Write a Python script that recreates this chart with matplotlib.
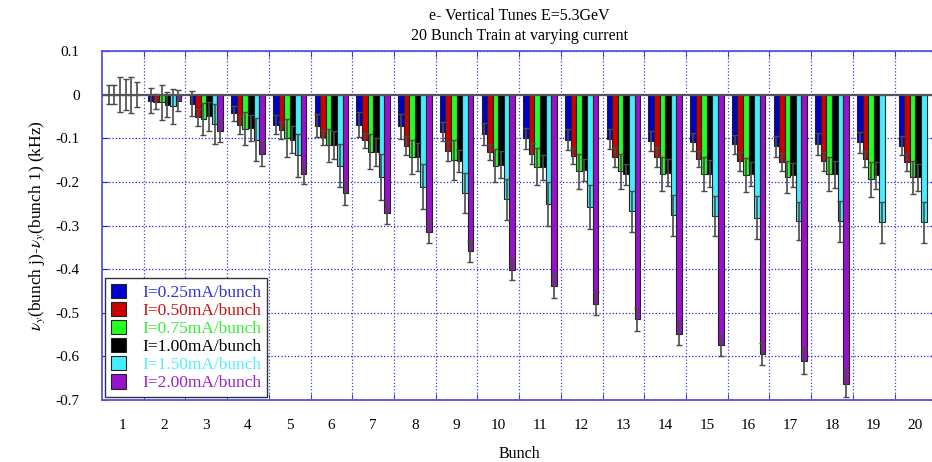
import numpy as np
import matplotlib.pyplot as plt

plt.rcParams['font.family'] = ['Liberation Serif', 'DejaVu Serif']
plt.rcParams['mathtext.fontset'] = 'stix'

bunch = list(range(1, 21))
labels = ['I=0.25mA/bunch', 'I=0.50mA/bunch', 'I=0.75mA/bunch',
          'I=1.00mA/bunch', 'I=1.50mA/bunch', 'I=2.00mA/bunch']
colors = ['#0000CC', '#CC0000', '#22FF22', '#000000', '#44EEFF', '#9911CC']
text_colors = ['#3333CC', '#CC1111', '#33EE33', '#000000', '#55EEFF', '#9922CC']

# bunch 1 is the reference -> 0
i025 = [0, -0.014, -0.021, -0.043, -0.069, -0.071, -0.069, -0.073, -0.085, -0.091,
        -0.100, -0.103, -0.102, -0.107, -0.108, -0.114, -0.118, -0.113, -0.109, -0.117]
i050 = [0, -0.016, -0.052, -0.070, -0.082, -0.098, -0.105, -0.117, -0.130, -0.132,
        -0.136, -0.140, -0.143, -0.144, -0.147, -0.153, -0.155, -0.153, -0.147, -0.155]
i075 = [0, -0.018, -0.056, -0.078, -0.100, -0.116, -0.131, -0.143, -0.150, -0.163,
        -0.165, -0.176, -0.176, -0.182, -0.182, -0.184, -0.189, -0.182, -0.194, -0.189]
i100 = [0, -0.023, -0.050, -0.076, -0.103, -0.116, -0.131, -0.143, -0.152, -0.161,
        -0.167, -0.173, -0.183, -0.179, -0.181, -0.182, -0.184, -0.182, -0.185, -0.189]
i150 = [0, -0.027, -0.068, -0.103, -0.139, -0.163, -0.189, -0.211, -0.226, -0.240,
        -0.251, -0.258, -0.267, -0.276, -0.278, -0.282, -0.290, -0.290, -0.292, -0.292]
i200 = [0, -0.014, -0.083, -0.136, -0.181, -0.226, -0.272, -0.314, -0.359, -0.401,
        -0.439, -0.479, -0.515, -0.548, -0.575, -0.594, -0.610, -0.663, np.nan, np.nan]

e025 = [0.022, 0.029, 0.029, 0.017, 0.022, 0.027, 0.029, 0.029, 0.022, 0.025,
        0.024, 0.024, 0.023, 0.023, 0.021, 0.021, 0.024, 0.025, 0.024, 0.022]
e050 = [0.021, 0.018, 0.020, 0.020, 0.020, 0.018, 0.017, 0.022, 0.021, 0.018,
        0.024, 0.018, 0.022, 0.023, 0.018, 0.021, 0.021, 0.021, 0.018, 0.021]
e075 = [0.040, 0.040, 0.037, 0.038, 0.043, 0.038, 0.040, 0.038, 0.045, 0.038,
        0.043, 0.040, 0.040, 0.040, 0.040, 0.039, 0.036, 0.040, 0.040, 0.038]
e100 = [0.036, 0.029, 0.034, 0.030, 0.030, 0.032, 0.032, 0.031, 0.026, 0.031,
        0.028, 0.025, 0.025, 0.031, 0.031, 0.027, 0.028, 0.031, 0.031, 0.031]
e150 = [0.041, 0.041, 0.046, 0.049, 0.049, 0.049, 0.053, 0.051, 0.046, 0.047,
        0.050, 0.050, 0.047, 0.047, 0.046, 0.050, 0.044, 0.047, 0.047, 0.047]
e200 = [0.029, 0.024, 0.025, 0.027, 0.024, 0.026, 0.025, 0.027, 0.024, 0.025,
        0.027, 0.026, 0.027, 0.027, 0.025, 0.025, 0.030, 0.029, np.nan, np.nan]

series = [i025, i050, i075, i100, i150, i200]
errors = [e025, e050, e075, e100, e150, e200]

fig = plt.figure(figsize=(9.32, 4.62), dpi=100)
ax = fig.add_axes([0.1094, 0.1342, 0.8952, 0.7554])

x = np.arange(1, 21)
w = 0.8 / 6
handles = []
for k in range(6):
    pos = x - 0.4 + w * (k + 0.5)
    b = ax.bar(pos, series[k], w, color=colors[k], edgecolor='#222222', linewidth=0.8,
               yerr=errors[k], ecolor='#4a4a4a', capsize=2.2,
               error_kw={'elinewidth': 1.2, 'capthick': 1.0}, zorder=3)
    handles.append(b)

ax.axhline(0, color='#555555', lw=1.6, zorder=4)

ax.set_xlim(0.5, 20.5)
ax.set_ylim(-0.7, 0.1)
ax.set_yticks(np.arange(-0.7, 0.11, 0.1))
ax.set_yticklabels(['-0.7', '-0.6', '-0.5', '-0.4', '-0.3', '-0.2', '-0.1', '0', '0.1'])
ax.set_xticks(x)
ax.set_xticklabels([str(b) for b in bunch])
ax.set_xticks(np.arange(1.5, 20.5, 1), minor=True)

ax.tick_params(axis='x', which='major', length=0, pad=14, labelsize=11)
ax.tick_params(axis='x', which='minor', direction='in', length=4, color='#2222CC',
               top=True, bottom=True)
ax.tick_params(axis='y', direction='in', length=4, color='#2222CC', pad=16,
               labelsize=11, right=True)

ax.grid(True, axis='y', which='major', color='#2222DD', ls=':', lw=0.9, zorder=0)
ax.grid(True, axis='x', which='minor', color='#4444DD', ls=':', lw=0.9, zorder=0)
for s in ax.spines.values():
    s.set_color('#5555DD')
    s.set_linewidth(1.3)

ax.set_xlabel('Bunch', fontsize=11.5, labelpad=10)
ax.set_ylabel(r'$\nu_y$(bunch j)-$\nu_y$(bunch 1) (kHz)', fontsize=12.5, labelpad=6)
ax.set_title('e- Vertical Tunes E=5.3GeV\n20 Bunch Train at varying current',
             fontsize=11.5, pad=8, linespacing=1.35)

leg = ax.legend(handles, labels, loc='lower left', fontsize=12.5, frameon=True,
                fancybox=False, edgecolor='#333333', framealpha=1,
                borderaxespad=0.15, handlelength=0.9, handleheight=0.9,
                handletextpad=0.9, labelspacing=0.05, borderpad=0.35)
leg.set_zorder(10)
for t, c in zip(leg.get_texts(), text_colors):
    t.set_color(c)

fig.savefig('out.png', dpi=100)
